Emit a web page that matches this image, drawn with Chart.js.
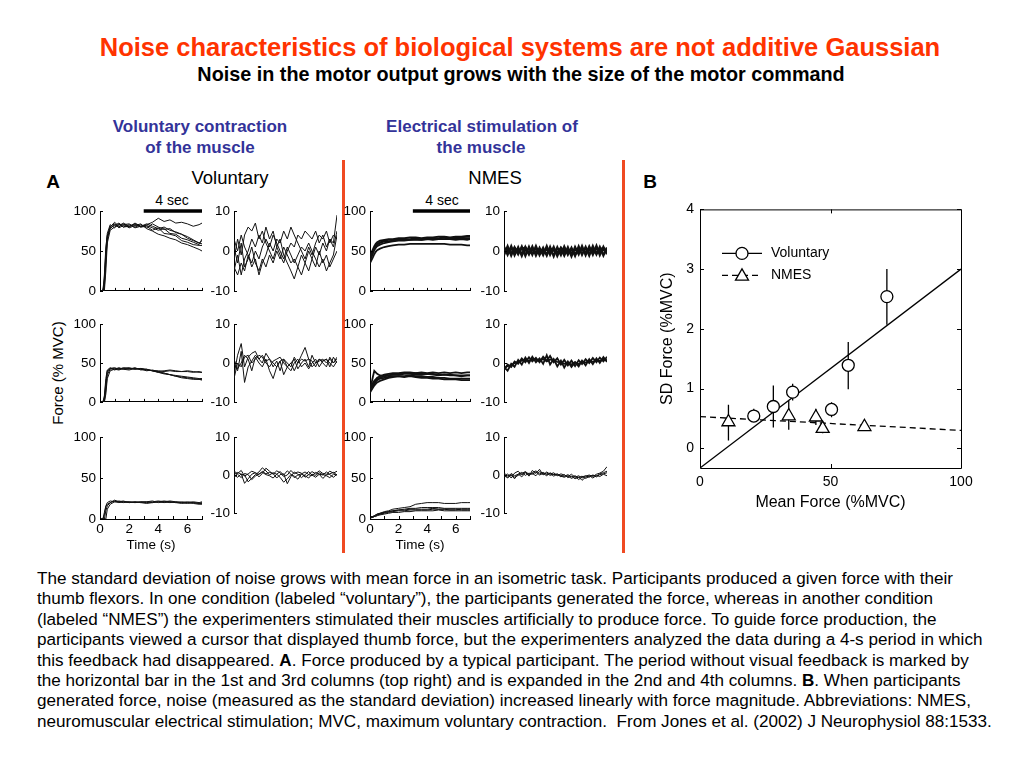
<!DOCTYPE html>
<html>
<head>
<meta charset="utf-8">
<script src="https://cdn.jsdelivr.net/npm/chart.js@4.4.1/dist/chart.umd.min.js"></script>
<style>
  body { margin: 0; width: 1024px; height: 768px; background: #fff; position: relative; overflow: hidden;
         font-family: "Liberation Sans", Arial, Helvetica, sans-serif; }
  .t { position: absolute; white-space: nowrap; transform: translate(-50%, -50%); }
  .red { position: absolute; width: 2.5px; background: #f04a22; }
  canvas { position: absolute; }
  #caption { position: absolute; left: 37px; top: 569px; font-size: 17.1px; line-height: 20.4px; white-space: nowrap; color: #000; }
</style>
</head>
<body>

<div class="t" style="left:520px;top:47px;font-size:25.5px;font-weight:bold;color:#ff3300">Noise characteristics of biological systems are not additive Gaussian</div>
<div class="t" style="left:521px;top:74px;font-size:19.8px;font-weight:bold">Noise in the motor output grows with the size of the motor command</div>

<div class="t" style="left:200px;top:127px;font-size:17px;font-weight:bold;color:#333399">Voluntary contraction</div>
<div class="t" style="left:200px;top:148px;font-size:17px;font-weight:bold;color:#333399">of the muscle</div>
<div class="t" style="left:482px;top:127px;font-size:17px;font-weight:bold;color:#333399">Electrical stimulation of</div>
<div class="t" style="left:481px;top:148px;font-size:17px;font-weight:bold;color:#333399">the muscle</div>

<div class="red" style="left:342px;top:160px;height:393px"></div>
<div class="red" style="left:622px;top:160px;height:393px"></div>

<div class="t" style="left:53px;top:182px;font-size:19px;font-weight:bold">A</div>
<div class="t" style="left:650px;top:182px;font-size:19px;font-weight:bold">B</div>
<div class="t" style="left:230px;top:178px;font-size:18.5px">Voluntary</div>
<div class="t" style="left:495px;top:178px;font-size:18.5px">NMES</div>
<div class="t" style="left:172px;top:200px;font-size:14px">4 sec</div>
<div class="t" style="left:442px;top:200px;font-size:14px">4 sec</div>
<div class="t" style="left:57px;top:373px;font-size:15px;transform:translate(-50%,-50%) rotate(-90deg)">Force (% MVC)</div>

<div id="caption">The standard deviation of noise grows with mean force in an isometric task. Participants produced a given force with their<br>thumb flexors. In one condition (labeled “voluntary”), the participants generated the force, whereas in another condition<br>(labeled “NMES”) the experimenters stimulated their muscles artificially to produce force. To guide force production, the<br>participants viewed a cursor that displayed thumb force, but the experimenters analyzed the data during a 4-s period in which<br>this feedback had disappeared. <b>A</b>. Force produced by a typical participant. The period without visual feedback is marked by<br>the horizontal bar in the 1st and 3rd columns (top right) and is expanded in the 2nd and 4th columns. <b>B</b>. When participants<br>generated force, noise (measured as the standard deviation) increased linearly with force magnitude. Abbreviations: NMES,<br>neuromuscular electrical stimulation; MVC, maximum voluntary contraction.&nbsp; From Jones et al. (2002) J Neurophysiol 88:1533.</div>

<script>
// time bases (s)
const forceTime = [0,0.2,0.3,0.4,0.5,0.7,1,1.3,1.6,2,2.4,2.8,3.2,3.6,4,4.4,4.8,5.2,5.6,6,6.4,6.8,7];
const noiseTime = [0,0.14,0.28,0.41,0.55,0.69,0.83,0.97,1.1,1.24,1.38,1.52,1.66,1.79,1.93,2.07,2.21,2.34,2.48,2.62,2.76,2.9,3.03,3.17,3.31,3.45,3.59,3.72,3.86,4];
const feedbackWindow = [3, 7];
const forceTicks = [0, 50, 100];
const noiseTicks = [-10, 0, 10];

// voluntary force, %MVC (rows 1-3)
const volForce1 = [
  [0,0,20,55,70,78,83,80,85,81,84,80,83,86,91,87,89,85,86,84,81,83,85],
  [0,0,10,45,68,80,86,81,83,84,80,83,79,84,80,77,78,73,71,66,63,60,63],
  [0,0,5,35,65,79,82,85,80,81,83,80,81,76,79,72,71,69,63,61,58,57,57],
  [0,0,0,25,60,76,80,83,84,79,82,84,78,75,71,69,66,64,60,58,55,52,50],
  [0,0,15,50,72,83,79,84,80,83,79,81,82,79,76,78,72,71,66,64,61,58,65],
  [0,0,8,40,66,81,84,79,82,80,85,81,84,81,78,80,76,74,71,68,64,60,59]
];
const volForce2 = [
  [0,0,0,15,35,42,43,42,44,43,43,42,41,40,40,39,40,39,39,40,39,38,38],
  [0,0,5,25,40,43,42,44,42,43,42,43,41,40,39,37,35,34,33,32,31,30,30],
  [0,0,0,10,30,40,42,41,43,42,44,41,42,40,38,36,35,33,32,31,30,29,28],
  [0,0,8,30,41,44,41,43,42,41,43,42,40,41,39,40,41,40,39,39,38,39,38],
  [0,0,3,20,38,43,44,42,43,44,42,43,42,40,38,37,35,33,31,30,29,29,29]
];
const volForce3 = [
  [0,0,5,15,18,20,22,21,20,21,20,21,20,21,22,21,20,21,20,21,20,19,20],
  [0,0,0,10,16,20,23,21,22,20,21,20,21,20,21,22,21,20,21,20,21,20,21],
  [0,0,0,0,12,18,21,20,21,21,20,21,21,22,20,21,22,21,20,19,20,19,19],
  [0,0,8,16,20,22,21,22,21,20,21,20,19,20,21,20,21,20,19,20,19,18,18]
];

// voluntary noise (detrended force), %MVC
const volNoise1 = [
  [-2,3,-1,4,6,5,7,3,5,2,0,-2,1,-1,-3,0,2,1,4,3,5,4,3,5,2,4,1,3,2,9],
  [1,-3,2,-4,-2,1,-3,-5,-2,-4,-1,-3,0,-2,1,-1,-3,-2,-4,-1,-3,0,-2,1,-1,2,0,3,1,5],
  [-5,-1,-6,-2,0,3,1,4,2,6,3,5,1,3,-1,-3,-5,-7,-4,-6,-3,-5,-2,-4,0,-3,-1,-4,-2,0],
  [3,0,4,1,-1,-4,-2,-6,-3,-1,2,0,3,2,5,3,6,4,2,0,-2,1,-1,2,4,3,5,2,4,3],
  [-4,-6,-3,-5,-1,-3,0,-2,1,3,1,4,2,0,-2,1,-1,-3,-1,1,0,2,0,-2,-4,-2,-5,-3,-1,4]
];
const volNoise2 = [
  [-3,2,5,-1,1.5,2.5,3,1,2,0.5,1,-1,0.5,-2,1,0,-1,1.5,0,2,4,1,0.5,-1,1,0,-1,1.5,0,1],
  [0,-2,3,-5,-1,0.5,2,1,0,2.5,1,0,-1,0.5,-3,-1,0,1,-1.5,0,1,-1,2,0,1,0.5,1,-1,1.5,0],
  [1,-1.5,0,2,1,-2,1.5,0,-1,1,-2,-4,-1,0.5,1,-1,0,-2,0,1,0.5,1,-1,0,0.5,1,0,1,0,1.5],
  [-4,0,-1,1.5,2,0,1,2,1.5,0,-1,0.5,1,1.5,0,-1,-2,0,1,-1,0,-1.5,0,1,-1,0.5,1,0,-1,0.5]
];
const volNoise3 = [
  [1,0.4,1.2,-0.3,0.3,1,0.6,-0.5,0.4,1.8,1,0.2,1.1,0.6,-0.4,0,1.2,0.3,0.8,0.5,-0.6,0.1,0.9,0.3,1.1,0.4,0.2,1,0.5,1],
  [0,-0.6,0.3,-2.2,-1,0.2,0.6,0.1,1,0.3,0.7,0.4,-0.8,0.1,0.3,-2.3,-0.4,0.8,0.2,-0.7,0.1,0.9,0,-0.6,0.2,0,0.8,0.1,-0.6,0.2],
  [-0.8,0.7,0.2,0,-1.8,-0.9,0.1,0.8,1.9,1.1,0,0.6,0.2,0.9,0,1.1,0.2,-0.7,0,0.3,0.8,0.1,-0.2,0.7,0.2,-0.9,0,0.3,0.7,0],
  [0.6,0.2,-0.7,0.4,0.1,-1.2,-0.3,0.3,0.7,0.1,-0.2,-0.8,0.2,-0.6,-1.9,-1,0.1,-0.3,-1.1,0.2,-0.2,-0.8,0.2,-0.1,0.6,0.1,-0.2,-0.7,0.2,0]
];

// NMES force, %MVC
const nmesForce1 = [
  [42,50,54,57,59,61,63,64,64,65,65,65,66,65,66,66,66,67,66,67,67,68,68],
  [38,47,51,54,56,58,60,61,62,63,63,64,64,64,65,65,65,65,66,66,66,66,66],
  [35,42,46,49,51,53,55,56,57,58,58,59,59,59,59,59,59,59,58,58,58,57,57],
  [40,48,53,56,58,60,62,62,63,64,64,64,65,64,65,64,65,65,65,64,65,64,65],
  [44,52,56,59,61,63,64,65,65,66,66,67,67,66,67,67,68,68,67,68,68,69,69]
];
const nmesForce2 = [
  [15,32,40,38,36,34,33,34,35,36,37,37,37,38,37,38,37,38,37,38,37,38,38],
  [18,22,25,27,29,31,33,34,35,35,36,36,35,35,36,35,34,35,34,34,33,34,34],
  [12,18,21,23,25,27,29,31,32,33,33,34,33,33,32,32,31,31,30,30,30,30,30],
  [20,24,27,29,31,33,35,36,37,37,38,38,37,37,36,36,35,35,35,34,34,34,34],
  [16,20,23,26,28,30,31,32,33,33,32,33,32,31,31,30,30,29,29,29,28,28,28]
];
const nmesForce3 = [
  [2,3,4,5,6,7,9,10,12,13,14,15,18,19,20,20,20,19,19,19,20,20,20],
  [2,3,3,4,5,6,8,9,10,11,12,13,13,14,14,14,14,13,13,13,13,13,13],
  [1,2,3,4,5,6,7,8,9,10,10,11,11,11,11,12,12,12,11,11,12,12,12],
  [2,2,3,3,4,5,6,7,8,8,9,9,10,10,10,10,11,10,10,10,10,10,10],
  [3,3,4,5,6,7,8,9,10,11,11,12,12,12,12,13,12,12,12,12,11,11,11]
];

// NMES noise, %MVC
const nmesNoise1 = [
  [1.1,-0.9,1.2,-1.0,0.9,-1.2,1.0,-0.8,1.1,-1.1,0.8,-1.0,1.2,-0.9,1.0,-1.2,0.7,-1.1,0.9,-1.3,1.0,-0.8,1.2,-1.0,1.1,-0.9,1.3,-1.0,1.0,-0.8],
  [-1.0,1.2,-1.1,0.9,-0.8,1.1,-1.2,1.0,-0.9,1.2,-1.0,0.8,-1.1,1.0,-1.3,0.9,-1.0,1.1,-0.9,0.8,-1.2,1.1,-0.9,1.0,-1.1,1.2,-0.8,1.0,-1.1,0.9],
  [0.3,-0.5,0.6,-0.2,0.4,-0.6,0.2,-0.4,0.5,-0.3,0.1,-0.5,0.4,-0.2,0.6,-0.4,0.2,-0.6,0.3,-0.5,0.4,-0.1,0.5,-0.4,0.2,-0.3,0.6,-0.5,0.3,-0.2],
  [0.7,0.1,-0.6,0.8,-0.2,0.5,0.9,-0.7,0.2,0.6,-0.5,0.3,-0.8,0.6,0.1,-0.6,0.8,0,-0.4,0.5,-0.9,0.3,0.6,-0.3,0.7,0,-0.6,0.4,0.8,-0.4]
];
const nmesNoise2 = [
  [-1.8,-0.4,-1.0,0.4,-0.2,1.2,0.2,1.5,0.4,1.3,0.2,1.6,0.6,1.8,0.2,1.2,-0.4,0.8,-0.6,0.6,-0.8,0.7,-0.3,1.0,0,1.3,0.2,1.4,0.4,1.6],
  [-1.0,-2.0,-0.2,-1.0,0.8,-0.4,1.4,0,1.6,0.2,1.2,-0.2,2.0,-0.4,1.0,-0.9,0.6,-1.2,0.4,-1.0,0.2,-0.9,0.6,-0.6,1.0,-0.3,1.2,0,1.5,0.3],
  [-1.4,-0.8,-0.6,0,0.2,0.6,0.8,0.6,1.0,0.8,0.6,1.0,0.4,0.9,0.6,0.3,0.2,-0.2,0,-0.4,0.2,-0.3,0.4,0.1,0.5,0.3,0.8,0.5,0.9,0.7]
];
const nmesNoise3 = [
  [-0.5,0.3,-0.8,0.5,1,0,0.8,-0.3,1.2,0.4,1.5,0,0.8,0.2,0.6,-0.2,0.3,0,-0.4,0.2,-0.6,-0.2,-0.8,-0.3,0,-0.4,0.2,0.5,1,2.2],
  [0.2,-0.8,0,-1,0.3,-0.5,0.6,0,0.4,-0.2,0.9,0.3,0.5,-0.1,0.2,0,-0.3,-0.6,-0.2,-0.9,-0.4,-1.2,-0.5,-0.2,-0.6,0,-0.3,0.3,0.6,1],
  [-0.3,-0.6,0.4,-0.2,0.2,0.7,-0.1,0.5,0.2,0.8,0,0.4,-0.2,0.6,0.1,0.3,-0.5,0.1,-0.7,-0.3,-1,-0.5,-1.4,-0.6,-0.2,-0.8,-0.1,-0.4,0.2,-0.2],
  [0.5,-0.2,0.1,-0.6,-0.1,0.4,0.9,0.2,0.6,1.1,0.3,0.7,0.1,0.4,-0.3,0.2,-0.1,-0.4,0.1,-0.5,-0.2,-0.7,-0.3,-0.9,-0.4,-0.1,-0.5,0.1,0.3,0.6]
];

// panel B: SD of force vs mean force
const seriesNames = ['Voluntary', 'NMES'];
const volMean = [20.6, 28.1, 35.5, 50.4, 56.8, 71.6];
const volSD   = [0.54, 0.70, 0.94, 0.65, 1.39, 2.54];
const volLo   = [0.44, 0.35, 0.80, 0.52, 0.99, 2.07];
const volHi   = [0.66, 1.05, 1.08, 0.77, 1.78, 3.00];
const nmesMean = [10.9, 34.0, 44.4, 47.0, 63.0];
const nmesSD   = [0.44, 0.54, 0.52, 0.33, 0.36];
const nmesLo   = [0.13, 0.31, 0.39, 0.25, 0.30];
const nmesHi   = [0.73, 0.80, 0.66, 0.41, 0.40];
const volFitX = [0, 100], volFitY = [-0.33, 3.0];
const nmesFitX = [0, 100], nmesFitY = [0.53, 0.30];
const meanTicks = [0, 50, 100];
const sdTicks = [0, 1, 2, 3, 4];

Chart.defaults.font.family = '"Liberation Sans", Arial, Helvetica, sans-serif';
Chart.defaults.color = '#000';

// tick marks pointing into the plot
const inTicks = {
  id: 'inTicks',
  afterDraw(chart, args, o) {
    const { ctx, chartArea: a, scales } = chart;
    const len = o.len || 3;
    ctx.save();
    ctx.strokeStyle = '#000';
    ctx.lineWidth = 1;
    ctx.beginPath();
    if (o.x) scales.x.ticks.forEach(t => {
      const p = Math.round(scales.x.getPixelForValue(t.value)) + 0.5;
      ctx.moveTo(p, a.bottom); ctx.lineTo(p, a.bottom - len);
      if (o.box) { ctx.moveTo(p, a.top); ctx.lineTo(p, a.top + len); }
    });
    if (o.y) scales.y.ticks.forEach(t => {
      const p = Math.round(scales.y.getPixelForValue(t.value)) + 0.5;
      ctx.moveTo(a.left, p); ctx.lineTo(a.left + len, p);
      if (o.box) { ctx.moveTo(a.right, p); ctx.lineTo(a.right - len, p); }
    });
    if (o.box) ctx.rect(a.left + 0.5, a.top + 0.5, a.right - a.left, a.bottom - a.top);
    ctx.stroke();
    ctx.restore();
  }
};

// 4-s no-feedback bar
const feedbackBar = {
  id: 'feedbackBar',
  afterDraw(chart, args, o) {
    if (!o.range) return;
    const { ctx, chartArea: a, scales } = chart;
    ctx.save();
    ctx.strokeStyle = '#000';
    ctx.lineWidth = 3.5;
    ctx.beginPath();
    ctx.moveTo(scales.x.getPixelForValue(o.range[0]), a.top);
    ctx.lineTo(scales.x.getPixelForValue(o.range[1]), a.top);
    ctx.stroke();
    ctx.restore();
  }
};

function panel(o) {
  const padL = 45, padT = 10, padR = 8, padB = o.labels ? 36 : 6;
  const c = document.createElement('canvas');
  c.width = o.w + padL + padR;
  c.height = o.h + padT + padB;
  c.style.left = (o.left - padL) + 'px';
  c.style.top = (o.top - padT) + 'px';
  document.body.appendChild(c);
  new Chart(c, {
    type: 'line',
    data: {
      datasets: o.traces.map(tr => ({
        data: o.time.map((t, i) => ({ x: t, y: tr[i] })),
        borderColor: '#111', borderWidth: o.lw || 1, pointRadius: 0, tension: 0
      }))
    },
    options: {
      responsive: false, animation: false, events: [],
      layout: { padding: { top: padT, right: padR, left: 0, bottom: 0 } },
      plugins: {
        legend: { display: false }, tooltip: { enabled: false },
        inTicks: { x: o.xAxis, y: true, len: 3 },
        feedbackBar: { range: o.bar }
      },
      scales: {
        x: {
          type: 'linear', min: 0, max: o.time[o.time.length - 1],
          afterFit: s => { s.height = padB; },
          grid: { display: false, drawTicks: false },
          border: { display: o.xAxis, color: '#000', width: 1 },
          ticks: { display: !!o.labels, stepSize: 1, autoSkip: false, maxRotation: 0, padding: 2,
                   font: { size: 13.5 }, callback: v => (v % 2 === 0 ? v : '') },
          title: { display: !!o.labels, text: 'Time (s)', font: { size: 13.5 }, padding: { top: 0, bottom: 2 } }
        },
        y: {
          min: o.ticks[0], max: o.ticks[o.ticks.length - 1],
          afterFit: s => { s.width = padL; },
          afterBuildTicks: s => { s.ticks = o.ticks.map(v => ({ value: v })); },
          grid: { display: false, drawTicks: false },
          border: { display: true, color: '#000', width: 1 },
          ticks: { padding: 4, font: { size: 13.5 } }
        }
      }
    },
    plugins: [inTicks, feedbackBar]
  });
}

const colX = [100, 234, 370, 504];
const colW = [102, 103, 100, 103];
const rowTop = [209, 322, 435];
const rowH = [88, 86, 84];

const grid = [
  [volForce1, volNoise1, nmesForce1, nmesNoise1],
  [volForce2, volNoise2, nmesForce2, nmesNoise2],
  [volForce3, volNoise3, nmesForce3, nmesNoise3]
];
grid.forEach((row, r) => row.forEach((traces, k) => {
  const isForce = k % 2 === 0;
  panel({
    left: colX[k], top: rowTop[r], w: colW[k], h: rowH[r],
    traces, time: isForce ? forceTime : noiseTime,
    ticks: isForce ? forceTicks : noiseTicks,
    xAxis: isForce, labels: isForce && r === 2,
    bar: isForce && r === 0 ? feedbackWindow : null,
    lw: k === 3 && r === 0 ? 2.3 : (k >= 2 && r < 2 ? 1.8 : 1)
  });
}));

// panel B
const errorBars = {
  id: 'errorBars',
  beforeDatasetsDraw(chart) {
    const { ctx, scales: { x, y } } = chart;
    ctx.save();
    ctx.strokeStyle = '#000';
    ctx.lineWidth = 1.3;
    ctx.beginPath();
    [[volMean, volLo, volHi], [nmesMean, nmesLo, nmesHi]].forEach(([mx, lo, hi]) => {
      mx.forEach((m, i) => {
        const px = x.getPixelForValue(m);
        ctx.moveTo(px, y.getPixelForValue(lo[i]));
        ctx.lineTo(px, y.getPixelForValue(hi[i]));
      });
    });
    ctx.stroke();
    ctx.restore();
  }
};

function triangle(ctx, cx, cy, r) {
  const h = r * 1.5, s = r * Math.sqrt(3) / 2;
  ctx.beginPath();
  ctx.moveTo(cx, cy - r);
  ctx.lineTo(cx + s, cy + h - r);
  ctx.lineTo(cx - s, cy + h - r);
  ctx.closePath();
  ctx.fillStyle = '#fff';
  ctx.fill();
  ctx.stroke();
}

const legendB = {
  id: 'legendB',
  afterDatasetsDraw(chart) {
    const { ctx, chartArea: a } = chart;
    const x0 = a.left + 22, x1 = a.left + 62, xm = a.left + 42;
    const y0 = a.top + 44, y1 = a.top + 66;
    ctx.save();
    ctx.strokeStyle = '#000';
    ctx.lineWidth = 1.3;
    ctx.beginPath(); ctx.moveTo(x0, y0); ctx.lineTo(x1, y0); ctx.stroke();
    ctx.beginPath(); ctx.arc(xm, y0, 6, 0, Math.PI * 2); ctx.fillStyle = '#fff'; ctx.fill(); ctx.stroke();
    ctx.setLineDash([6, 4]);
    ctx.beginPath(); ctx.moveTo(x0, y1); ctx.lineTo(x1, y1); ctx.stroke();
    ctx.setLineDash([]);
    triangle(ctx, xm, y1 + 1, 7.5);
    ctx.fillStyle = '#000';
    ctx.font = '14px "Liberation Sans", Arial, sans-serif';
    ctx.textBaseline = 'middle';
    ctx.fillText(seriesNames[0], a.left + 71, y0);
    ctx.fillText(seriesNames[1], a.left + 71, y1);
    ctx.restore();
  }
};

(function () {
  const padL = 50, padT = 12, padR = 19, padB = 46, side = 261;
  const c = document.createElement('canvas');
  c.width = padL + side + padR;
  c.height = padT + side + padB;
  c.style.left = (700 - padL) + 'px';
  c.style.top = (207 - padT) + 'px';
  document.body.appendChild(c);
  const pts = (xs, ys) => xs.map((v, i) => ({ x: v, y: ys[i] }));
  new Chart(c, {
    type: 'scatter',
    data: {
      datasets: [
        { label: seriesNames[0], data: pts(volMean, volSD), pointStyle: 'circle', pointRadius: 6,
          backgroundColor: '#fff', borderColor: '#000', borderWidth: 1.3 },
        { label: seriesNames[1], data: pts(nmesMean, nmesSD), pointStyle: 'triangle', pointRadius: 7.5,
          backgroundColor: '#fff', borderColor: '#000', borderWidth: 1.3 },
        { label: 'Voluntary fit', data: pts(volFitX, volFitY), showLine: true, pointRadius: 0,
          borderColor: '#000', borderWidth: 1.3 },
        { label: 'NMES fit', data: pts(nmesFitX, nmesFitY), showLine: true, pointRadius: 0,
          borderColor: '#000', borderWidth: 1.3, borderDash: [6, 4] }
      ]
    },
    options: {
      responsive: false, animation: false, events: [],
      layout: { padding: { top: padT, right: padR, left: 0, bottom: 0 } },
      plugins: { legend: { display: false }, tooltip: { enabled: false },
                 inTicks: { x: true, y: true, box: true, len: 4 } },
      scales: {
        x: {
          min: 0, max: 100,
          afterFit: s => { s.height = padB; },
          afterBuildTicks: s => { s.ticks = meanTicks.map(v => ({ value: v })); },
          grid: { display: false, drawTicks: false }, border: { display: false },
          ticks: { padding: 6, font: { size: 14 } },
          title: { display: true, text: 'Mean Force (%MVC)', font: { size: 16 }, padding: { top: 0, bottom: 2 } }
        },
        y: {
          min: -0.33, max: 4,
          afterFit: s => { s.width = padL; },
          afterBuildTicks: s => { s.ticks = sdTicks.map(v => ({ value: v })); },
          grid: { display: false, drawTicks: false }, border: { display: false },
          ticks: { padding: 6, font: { size: 14 } },
          title: { display: true, text: 'SD Force (%MVC)', font: { size: 16 }, padding: { top: 8, bottom: 0 } }
        }
      }
    },
    plugins: [errorBars, inTicks, legendB]
  });
})();
</script>
</body>
</html>
